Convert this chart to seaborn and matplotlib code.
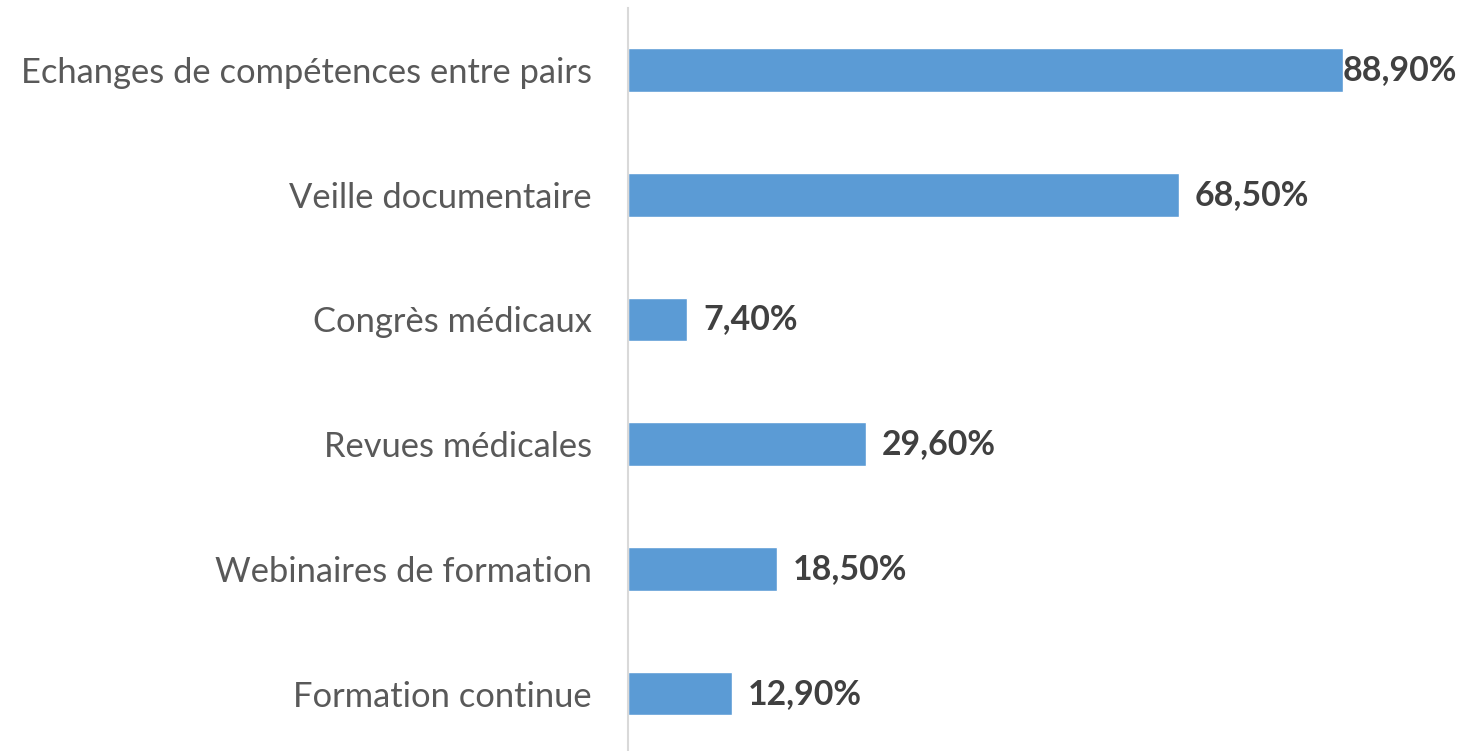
import matplotlib
matplotlib.use("Agg")
import matplotlib.pyplot as plt
import seaborn as sns
import pandas as pd

categories = ["Echanges de compétences entre pairs", "Veille documentaire", "Congrès médicaux",
              "Revues médicales", "Webinaires de formation", "Formation continue"]
values = [88.9, 68.5, 7.4, 29.6, 18.5, 12.9]
value_labels = ["88,90%", "68,50%", "7,40%", "29,60%", "18,50%", "12,90%"]

df = pd.DataFrame({"cat": categories, "val": values})

sns.set_theme(style="white")
plt.rcParams['font.family'] = ['Lato', 'DejaVu Sans']

fig = plt.figure(figsize=(14.73, 7.51), dpi=100)
ax = fig.add_axes([628/1473, -5/751, (1432-628)/1473, (756-7.6)/751])
sns.barplot(data=df, x="val", y="cat", color="#5B9BD5", width=0.35, ax=ax, saturation=1)
ax.set_xlim(0, 100)
ax.set_ylim(5.5, -0.5)
ax.set_xlabel("")
ax.set_ylabel("")
ax.set_xticks([])
for s in ["top", "right", "bottom"]:
    ax.spines[s].set_visible(False)
ax.spines["left"].set_color("#D9D9D9")
ax.spines["left"].set_linewidth(1.5)
ax.tick_params(axis="y", length=0, pad=26, labelsize=24.8, labelcolor="#595959")
for i, (v, lab) in enumerate(zip(values, value_labels)):
    ax.text(v + 0.0 if i == 0 else v + 2.0, i, lab, va="center", ha="left",
            fontsize=24.4, fontweight="bold", color="#404040")
fig.savefig("out.png", dpi=100)
